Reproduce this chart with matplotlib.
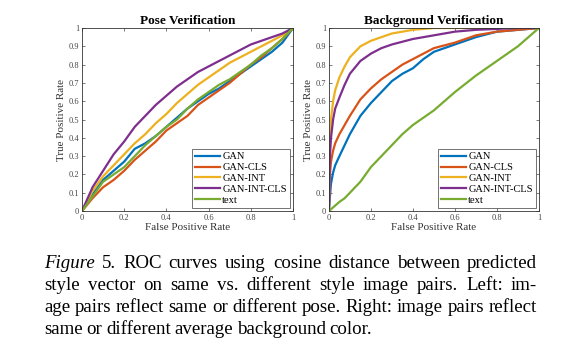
import numpy as np
import matplotlib
matplotlib.use("Agg")
import matplotlib.pyplot as plt

# ROC curves (false positive rate -> true positive rate)
pose_fpr = [0, 0.05, 0.1, 0.15, 0.2, 0.25, 0.3, 0.35, 0.4, 0.45, 0.5, 0.55, 0.6, 0.65, 0.7, 0.75, 0.8, 0.85, 0.9, 0.95, 1.0]
pose_gan = [0, 0.09, 0.17, 0.22, 0.27, 0.34, 0.37, 0.41, 0.46, 0.51, 0.56, 0.60, 0.64, 0.67, 0.71, 0.75, 0.79, 0.83, 0.87, 0.92, 1.0]
pose_gan_cls = [0, 0.07, 0.13, 0.17, 0.22, 0.28, 0.33, 0.38, 0.44, 0.48, 0.52, 0.58, 0.62, 0.66, 0.70, 0.75, 0.80, 0.84, 0.89, 0.94, 1.0]
pose_gan_int = [0, 0.11, 0.19, 0.25, 0.31, 0.37, 0.42, 0.48, 0.53, 0.59, 0.64, 0.69, 0.73, 0.77, 0.81, 0.84, 0.87, 0.90, 0.93, 0.96, 1.0]
pose_gan_int_cls = [0, 0.13, 0.22, 0.31, 0.38, 0.46, 0.52, 0.58, 0.63, 0.68, 0.72, 0.76, 0.79, 0.82, 0.85, 0.88, 0.91, 0.93, 0.95, 0.97, 1.0]
pose_text = [0, 0.08, 0.16, 0.20, 0.24, 0.30, 0.36, 0.41, 0.46, 0.50, 0.56, 0.61, 0.65, 0.69, 0.72, 0.76, 0.80, 0.85, 0.89, 0.94, 1.0]

bg_fpr = [0, 0.005, 0.01, 0.02, 0.03, 0.05, 0.075, 0.1, 0.15, 0.2, 0.25, 0.3, 0.35, 0.4, 0.45, 0.5, 0.6, 0.7, 0.8, 0.9, 1.0]
bg_gan = [0, 0.08, 0.15, 0.21, 0.25, 0.30, 0.36, 0.42, 0.52, 0.59, 0.65, 0.71, 0.75, 0.78, 0.83, 0.87, 0.91, 0.95, 0.98, 0.99, 1.0]
bg_gan_cls = [0, 0.20, 0.27, 0.33, 0.37, 0.42, 0.47, 0.52, 0.61, 0.67, 0.72, 0.76, 0.80, 0.83, 0.86, 0.89, 0.92, 0.96, 0.98, 0.99, 1.0]
bg_gan_int = [0, 0.42, 0.50, 0.60, 0.66, 0.73, 0.79, 0.84, 0.90, 0.93, 0.95, 0.97, 0.98, 0.99, 0.995, 1.0, 1.0, 1.0, 1.0, 1.0, 1.0]
bg_gan_int_cls = [0, 0.30, 0.40, 0.50, 0.56, 0.62, 0.69, 0.75, 0.82, 0.86, 0.89, 0.91, 0.925, 0.94, 0.95, 0.96, 0.98, 0.99, 0.995, 1.0, 1.0]
bg_text = [0, 0.005, 0.01, 0.02, 0.03, 0.05, 0.07, 0.10, 0.16, 0.24, 0.30, 0.36, 0.42, 0.47, 0.51, 0.55, 0.65, 0.74, 0.82, 0.90, 1.0]

labels = ["GAN", "GAN-CLS", "GAN-INT", "GAN-INT-CLS", "text"]
colors = ["#0072BD", "#D95319", "#EDB120", "#7E2F8E", "#77AC30"]

caption = [
    "Figure 5. ROC curves using cosine distance between predicted",
    "style vector on same vs.  different style image pairs.  Left: im-",
    "age pairs reflect same or different pose. Right: image pairs reflect",
    "same or different average background color.",
]

plt.rcParams["font.family"] = ["Liberation Serif", "DejaVu Serif"]

fig = plt.figure(figsize=(5.77, 3.5), dpi=100)
ax1 = fig.add_axes([0.1421, 0.397, 0.3657, 0.523])
ax2 = fig.add_axes([0.570, 0.397, 0.364, 0.523])


def draw_roc(ax, fpr, series, title):
    for ys, lab, c in zip(series, labels, colors):
        ax.plot(fpr, ys, color=c, lw=1.6, label=lab)
    ax.set_xlim(0, 1)
    ax.set_ylim(0, 1)
    ax.set_xticks([0, 0.2, 0.4, 0.6, 0.8, 1])
    ax.set_xticklabels(["0", "0.2", "0.4", "0.6", "0.8", "1"])
    ax.set_yticks(np.arange(0, 1.01, 0.1))
    ax.set_yticklabels(["0", "0.1", "0.2", "0.3", "0.4", "0.5", "0.6", "0.7", "0.8", "0.9", "1"])
    ax.tick_params(direction="in", top=True, right=True, length=2.5, width=0.5,
                   labelsize=6, labelcolor="#444444", pad=2, color="#444444")
    for s in ax.spines.values():
        s.set_linewidth(0.6)
        s.set_color("#333333")
    ax.set_title(title, fontsize=9.5, fontweight="bold", pad=3)
    ax.set_xlabel("False Positive Rate", fontsize=8, color="#333333", labelpad=1)
    ax.set_ylabel("True Positive Rate", fontsize=8, color="#333333", labelpad=2)
    leg = ax.legend(loc="lower right", fontsize=7.5, frameon=True, fancybox=False,
                    edgecolor="#333333", handlelength=2.4, handletextpad=0.2,
                    labelspacing=0.15, borderpad=0.3, borderaxespad=0.3)
    leg.get_frame().set_linewidth(0.6)


draw_roc(ax1, pose_fpr, [pose_gan, pose_gan_cls, pose_gan_int, pose_gan_int_cls, pose_text], "Pose Verification")
draw_roc(ax2, bg_fpr, [bg_gan, bg_gan_cls, bg_gan_int, bg_gan_int_cls, bg_text], "Background Verification")

# justified caption, word by word
renderer = fig.canvas.get_renderer()
W = 577.0
x0, x1 = 44 / W, 537 / W
line_y = [263, 285, 307, 329]
for i, line in enumerate(caption):
    words = line.split()
    y = 1 - line_y[i] / 350.0
    texts = []
    for j, w in enumerate(words):
        style = "italic" if (i == 0 and j == 0) else "normal"
        t = fig.text(0, y, w, fontsize=13.6, style=style, va="center", ha="left")
        texts.append(t)
    widths = [t.get_window_extent(renderer).width / W for t in texts]
    if i < len(caption) - 1:
        gap = (x1 - x0 - sum(widths)) / (len(words) - 1)
    else:
        gap = 3.8 / W
    x = x0
    for t, wd in zip(texts, widths):
        t.set_x(x)
        x += wd + gap

fig.savefig("out.png", dpi=100)
